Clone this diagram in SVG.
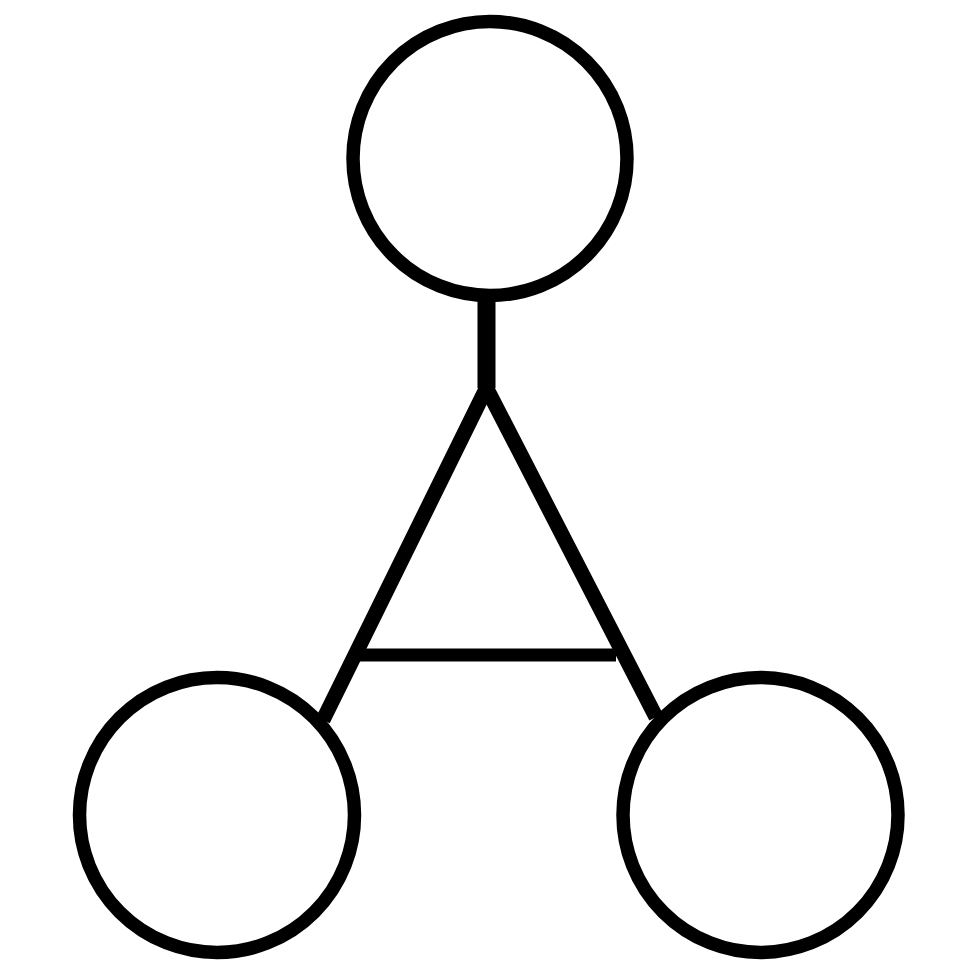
<svg xmlns="http://www.w3.org/2000/svg" width="980" height="980" viewBox="0 0 980 980">
<style>
.node{fill:#fff;stroke:#000;stroke-width:13.5}
.link{stroke:#000;fill:none}
</style>
<rect width="980" height="980" fill="#fff"/>
<g id="connectors">
<line class="link" x1="486.5" y1="300" x2="486.5" y2="388" stroke-width="18"/>
<polyline class="link" points="323,720 486.5,388 656,717" stroke-width="15" stroke-linejoin="miter"/>
<line class="link" x1="358" y1="655" x2="616" y2="655" stroke-width="13"/>
</g>
<g id="top"><circle class="node" cx="490" cy="158.5" r="137"/></g>
<g id="left"><circle class="node" cx="217" cy="815" r="137.5"/></g>
<g id="right"><circle class="node" cx="760.5" cy="815" r="137.5"/></g>
</svg>
